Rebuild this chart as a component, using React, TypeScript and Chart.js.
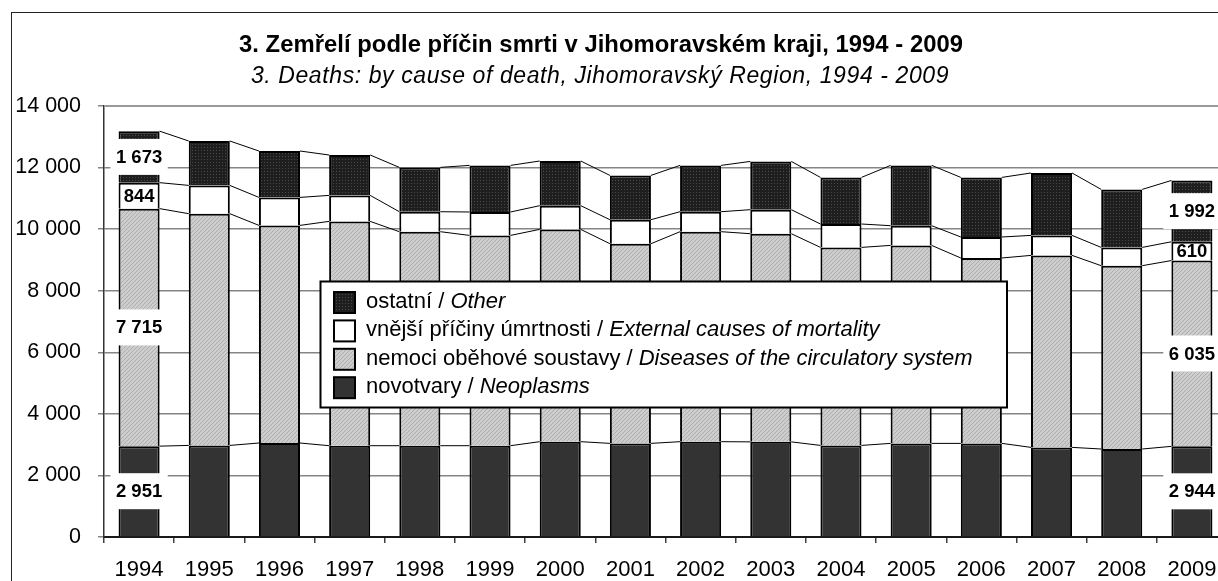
import React, { useEffect, useRef } from 'react';
import { Chart, registerables } from 'chart.js';

Chart.register(...registerables);

// ---- data ----
const years = ['1994', '1995', '1996', '1997', '1998', '1999', '2000', '2001', '2002', '2003', '2004', '2005', '2006', '2007', '2008', '2009'];
const neoplasms = [2951, 2975, 3053, 2966, 2966, 2966, 3096, 3041, 3096, 3090, 2975, 3041, 3041, 2911, 2858, 2944];
const circulatory = [7715, 7527, 7069, 7286, 6951, 6831, 6896, 6486, 6821, 6762, 6432, 6431, 6022, 6236, 5955, 6035];
const external = [844, 919, 909, 844, 649, 760, 770, 780, 649, 780, 760, 640, 682, 650, 594, 610];
const other = [1673, 1442, 1507, 1312, 1440, 1514, 1451, 1439, 1505, 1568, 1514, 1959, 1936, 2027, 1884, 1992];
const yMin = 0;
const yMax = 14000;
const yStep = 2000;
const labelledIndices = [0, 15];

const titleText = '3. Zemřelí podle příčin smrti v Jihomoravském kraji, 1994 - 2009';
const subtitleText = '3. Deaths: by cause of death, Jihomoravský Region, 1994 - 2009';
const seriesNames = [
  ['novotvary / ', 'Neoplasms'],
  ['nemoci oběhové soustavy / ', 'Diseases of the circulatory system'],
  ['vnější příčiny úmrtnosti / ', 'External causes of mortality'],
  ['ostatní / ', 'Other'],
];

const FONT = '"Liberation Sans", Arial, sans-serif';
const W = 1240;
const H = 600;

function fmt(v: number): string {
  return String(v).replace(/\B(?=(\d{3})+(?!\d))/g, ' ');
}

function makeLightPattern(): CanvasPattern | string {
  const c = document.createElement('canvas');
  c.width = 4; c.height = 4;
  const g = c.getContext('2d');
  if (!g) return '#c0c0c0';
  g.fillStyle = '#cdcdcd';
  g.fillRect(0, 0, 4, 4);
  g.fillStyle = '#aeaeae';
  for (let i = 0; i < 4; i++) g.fillRect(i, 3 - i, 1, 1);
  return g.createPattern(c, 'repeat') || '#c0c0c0';
}

function makeDarkPattern(): CanvasPattern | string {
  const c = document.createElement('canvas');
  c.width = 3; c.height = 3;
  const g = c.getContext('2d');
  if (!g) return '#262626';
  g.fillStyle = '#1e1e1e';
  g.fillRect(0, 0, 3, 3);
  g.fillStyle = '#4a4a4a';
  g.fillRect(1, 1, 1, 1);
  return g.createPattern(c, 'repeat') || '#262626';
}

export default function App() {
  const ref = useRef<HTMLCanvasElement | null>(null);

  useEffect(() => {
    const canvas = ref.current;
    if (!canvas) return;
    const light = makeLightPattern();
    const dark = makeDarkPattern();
    const fills: any[] = ['#333333', light, '#ffffff', dark];
    const values = [neoplasms, circulatory, external, other];

    const decor = {
      id: 'decor',
      beforeDraw(chart: any) {
        const ctx = chart.ctx;
        ctx.save();
        ctx.fillStyle = '#ffffff';
        ctx.fillRect(0, 0, W, H);
        ctx.strokeStyle = '#222';
        ctx.lineWidth = 1;
        ctx.strokeRect(3.5, 4.5, W + 40, H + 40);
        ctx.fillStyle = '#000';
        ctx.textAlign = 'center';
        ctx.textBaseline = 'alphabetic';
        ctx.font = `bold 23.8px ${FONT}`;
        (ctx as any).letterSpacing = '0.05px';
        ctx.fillText(titleText, 593, 44);
        ctx.font = `italic 23px ${FONT}`;
        (ctx as any).letterSpacing = '0.6px';
        ctx.fillText(subtitleText, 592, 75);
        (ctx as any).letterSpacing = '0px';
        ctx.restore();
      },
      beforeDatasetsDraw(chart: any) {
        const ctx = chart.ctx;
        const a = chart.chartArea;
        ctx.save();
        ctx.strokeStyle = '#9a9a9a';
        ctx.lineWidth = 2;
        ctx.beginPath();
        ctx.moveTo(a.left, a.top);
        ctx.lineTo(a.right + 10, a.top);
        ctx.stroke();
        // series lines
        ctx.strokeStyle = '#000';
        ctx.lineWidth = 1;
        for (let d = 0; d < 4; d++) {
          const meta = chart.getDatasetMeta(d);
          for (let k = 0; k < meta.data.length - 1; k++) {
            const e1 = meta.data[k];
            const e2 = meta.data[k + 1];
            ctx.beginPath();
            ctx.moveTo(e1.x + e1.width / 2, e1.y);
            ctx.lineTo(e2.x - e2.width / 2, e2.y);
            ctx.stroke();
          }
        }
        ctx.restore();
      },
      afterDatasetsDraw(chart: any) {
        const ctx = chart.ctx;
        ctx.save();
        // data labels
        ctx.font = `bold 18.5px ${FONT}`;
        ctx.textAlign = 'center';
        ctx.textBaseline = 'middle';
        for (const idx of labelledIndices) {
          for (let d = 0; d < 4; d++) {
            const el = chart.getDatasetMeta(d).data[idx];
            const cy = (el.y + el.base) / 2;
            const txt = fmt(values[d][idx]);
            const tw = ctx.measureText(txt).width;
            const segH = Math.abs(el.base - el.y);
            if (d !== 2) {
              const bh = Math.min(36, segH - 4);
              const bw = tw + 11;
              ctx.fillStyle = '#fff';
              ctx.fillRect(el.x - bw / 2, cy - bh / 2, bw, bh);
            }
            ctx.fillStyle = '#000';
            ctx.fillText(txt, el.x, cy + 1);
          }
        }
        // legend
        const lx = 312.5, ly = 273.5, lw = 686.5, lh = 126;
        ctx.fillStyle = '#fff';
        ctx.fillRect(lx, ly, lw, lh);
        ctx.strokeStyle = '#000';
        ctx.lineWidth = 2;
        ctx.strokeRect(lx, ly, lw, lh);
        ctx.textAlign = 'left';
        ctx.textBaseline = 'alphabetic';
        for (let r = 0; r < 4; r++) {
          const d = 3 - r;
          const top = ly + 10.5 + r * 28.4;
          ctx.fillStyle = fills[d];
          ctx.fillRect(326, top, 21, 21);
          ctx.strokeStyle = '#000';
          ctx.lineWidth = 2;
          ctx.strokeRect(326, top, 21, 21);
          ctx.fillStyle = '#000';
          ctx.font = `22px ${FONT}`;
          const [n, it] = seriesNames[d];
          ctx.fillText(n, 358, top + 16);
          const nw = ctx.measureText(n).width;
          ctx.font = `italic 22px ${FONT}`;
          ctx.fillText(it, 358 + nw, top + 16);
        }
        ctx.restore();
      },
    };

    const chart = new Chart(canvas, {
      type: 'bar',
      data: {
        labels: years,
        datasets: values.map((v, i) => ({
          label: seriesNames[i].join(''),
          data: v,
          backgroundColor: fills[i],
          borderColor: '#000',
          borderWidth: 2,
          borderSkipped: 'start',
          barPercentage: 0.585,
          categoryPercentage: 1,
        })),
      },
      options: {
        responsive: false,
        animation: false,
        devicePixelRatio: 1,
        layout: { padding: { top: 98, left: 0, right: 21, bottom: 0 } },
        plugins: {
          legend: { display: false },
          title: { display: false },
          tooltip: { enabled: false },
        },
        scales: {
          x: {
            stacked: true,
            offset: true,
            afterFit: (s: any) => { s.height = 71; },
            grid: { display: true, drawOnChartArea: false, offset: true, tickLength: 6, color: '#404040', lineWidth: 1.5 },
            border: { display: true, color: '#1a1a1a', width: 2 },
            ticks: { color: '#000', font: { family: FONT, size: 22 }, padding: 14, maxRotation: 0, autoSkip: false },
          },
          y: {
            stacked: true,
            min: yMin,
            max: yMax,
            afterFit: (s: any) => { s.width = 96; },
            grid: { color: '#858585', lineWidth: 1.5, tickLength: 6, borderDash: [12, 9] } as any,
            border: { display: true, color: '#333', width: 1.5 },
            ticks: { stepSize: yStep, color: '#000', font: { family: FONT, size: 21.5 }, padding: 17, callback: (v: any) => fmt(Number(v)) },
          },
        },
      },
      plugins: [decor],
    } as any);
    return () => chart.destroy();
  }, []);

  return (
    <div style={{ position: 'fixed', left: 0, top: 0, width: 1218, height: 581, overflow: 'hidden', background: '#fff' }}>
      <canvas ref={ref} width={W} height={H} style={{ position: 'absolute', left: 8, top: 8, display: 'block', width: W, height: H }} />
    </div>
  );
}
